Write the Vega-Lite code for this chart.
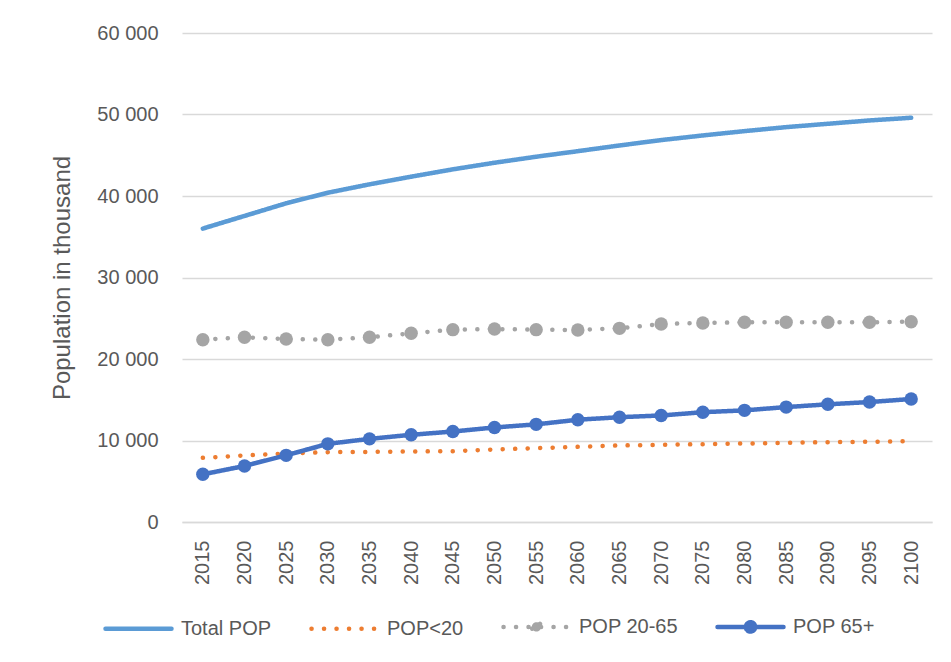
{
  "$schema": "https://vega.github.io/schema/vega-lite/v6.json",
  "autosize": {"type": "none"},
  "width": 750,
  "height": 489,
  "padding": {"left": 182, "top": 33, "right": 19, "bottom": 140},
  "background": "white",
  "config": {
    "view": {"stroke": null},
    "font": "Liberation Sans",
    "axis": {"labelFont": "Liberation Sans", "titleFont": "Liberation Sans", "labelColor": "#595959", "titleColor": "#595959", "titleFontWeight": "normal"},
    "legend": {"labelFont": "Liberation Sans", "labelColor": "#595959"}
  },
  "data": {
    "values": [
      {"year": "2015", "series": "Total POP", "value": 36000},
      {"year": "2020", "series": "Total POP", "value": 37550},
      {"year": "2025", "series": "Total POP", "value": 39100},
      {"year": "2030", "series": "Total POP", "value": 40400},
      {"year": "2035", "series": "Total POP", "value": 41430},
      {"year": "2040", "series": "Total POP", "value": 42370},
      {"year": "2045", "series": "Total POP", "value": 43270},
      {"year": "2050", "series": "Total POP", "value": 44080},
      {"year": "2055", "series": "Total POP", "value": 44820},
      {"year": "2060", "series": "Total POP", "value": 45500},
      {"year": "2065", "series": "Total POP", "value": 46200},
      {"year": "2070", "series": "Total POP", "value": 46860},
      {"year": "2075", "series": "Total POP", "value": 47430},
      {"year": "2080", "series": "Total POP", "value": 47960},
      {"year": "2085", "series": "Total POP", "value": 48450},
      {"year": "2090", "series": "Total POP", "value": 48860},
      {"year": "2095", "series": "Total POP", "value": 49270},
      {"year": "2100", "series": "Total POP", "value": 49600},
      {"year": "2015", "series": "POP<20", "value": 7870},
      {"year": "2020", "series": "POP<20", "value": 8160},
      {"year": "2025", "series": "POP<20", "value": 8400},
      {"year": "2030", "series": "POP<20", "value": 8570},
      {"year": "2035", "series": "POP<20", "value": 8600},
      {"year": "2040", "series": "POP<20", "value": 8650},
      {"year": "2045", "series": "POP<20", "value": 8690},
      {"year": "2050", "series": "POP<20", "value": 8900},
      {"year": "2055", "series": "POP<20", "value": 9060},
      {"year": "2060", "series": "POP<20", "value": 9220},
      {"year": "2065", "series": "POP<20", "value": 9390},
      {"year": "2070", "series": "POP<20", "value": 9470},
      {"year": "2075", "series": "POP<20", "value": 9550},
      {"year": "2080", "series": "POP<20", "value": 9630},
      {"year": "2085", "series": "POP<20", "value": 9710},
      {"year": "2090", "series": "POP<20", "value": 9800},
      {"year": "2095", "series": "POP<20", "value": 9840},
      {"year": "2100", "series": "POP<20", "value": 9920},
      {"year": "2015", "series": "POP 20-65", "value": 22370},
      {"year": "2020", "series": "POP 20-65", "value": 22660},
      {"year": "2025", "series": "POP 20-65", "value": 22450},
      {"year": "2030", "series": "POP 20-65", "value": 22370},
      {"year": "2035", "series": "POP 20-65", "value": 22660},
      {"year": "2040", "series": "POP 20-65", "value": 23150},
      {"year": "2045", "series": "POP 20-65", "value": 23600},
      {"year": "2050", "series": "POP 20-65", "value": 23680},
      {"year": "2055", "series": "POP 20-65", "value": 23600},
      {"year": "2060", "series": "POP 20-65", "value": 23560},
      {"year": "2065", "series": "POP 20-65", "value": 23760},
      {"year": "2070", "series": "POP 20-65", "value": 24300},
      {"year": "2075", "series": "POP 20-65", "value": 24420},
      {"year": "2080", "series": "POP 20-65", "value": 24500},
      {"year": "2085", "series": "POP 20-65", "value": 24500},
      {"year": "2090", "series": "POP 20-65", "value": 24500},
      {"year": "2095", "series": "POP 20-65", "value": 24500},
      {"year": "2100", "series": "POP 20-65", "value": 24580},
      {"year": "2015", "series": "POP 65+", "value": 5850},
      {"year": "2020", "series": "POP 65+", "value": 6870},
      {"year": "2025", "series": "POP 65+", "value": 8180},
      {"year": "2030", "series": "POP 65+", "value": 9590},
      {"year": "2035", "series": "POP 65+", "value": 10200},
      {"year": "2040", "series": "POP 65+", "value": 10700},
      {"year": "2045", "series": "POP 65+", "value": 11100},
      {"year": "2050", "series": "POP 65+", "value": 11600},
      {"year": "2055", "series": "POP 65+", "value": 11980},
      {"year": "2060", "series": "POP 65+", "value": 12550},
      {"year": "2065", "series": "POP 65+", "value": 12860},
      {"year": "2070", "series": "POP 65+", "value": 13070},
      {"year": "2075", "series": "POP 65+", "value": 13470},
      {"year": "2080", "series": "POP 65+", "value": 13700},
      {"year": "2085", "series": "POP 65+", "value": 14100},
      {"year": "2090", "series": "POP 65+", "value": 14440},
      {"year": "2095", "series": "POP 65+", "value": 14720},
      {"year": "2100", "series": "POP 65+", "value": 15090}
    ]
  },
  "encoding": {
    "x": {
      "field": "year", "type": "ordinal",
      "scale": {"type": "point", "padding": 0.5},
      "axis": {"title": null, "labelAngle": -90, "labelAlign": "right", "labelBaseline": "middle", "labelFontSize": 20, "labelPadding": 18, "ticks": false, "grid": false, "domainColor": "#D9D9D9", "domainWidth": 1.5}
    },
    "y": {
      "field": "value", "type": "quantitative",
      "scale": {"domain": [0, 60000], "nice": false},
      "axis": {"title": "Population in thousand", "titleFontSize": 24, "titlePadding": 22, "values": [0, 10000, 20000, 30000, 40000, 50000, 60000], "labelExpr": "replace(format(datum.value, ','), ',', ' ')", "labelFontSize": 20, "labelPadding": 24, "ticks": false, "domain": false, "gridColor": "#D9D9D9", "gridWidth": 1.5}
    }
  },
  "layer": [
    {
      "mark": {"type": "line", "strokeWidth": 4.5, "strokeCap": "round", "strokeJoin": "round"},
      "encoding": {
        "color": {
          "field": "series", "type": "nominal",
          "scale": {"domain": ["Total POP", "POP<20", "POP 20-65", "POP 65+"], "range": ["#5B9BD5", "#ED7D31", "#A5A5A5", "#4472C4"]},
          "legend": {
            "title": null, "orient": "none", "direction": "horizontal", "columns": 4,
            "legendX": -79, "legendY": 558,
            "symbolType": "stroke", "symbolSize": 4356, "symbolStrokeWidth": 4.5,
            "labelFontSize": 20, "labelOffset": 7, "columnPadding": 30,
            "encode": {
              "symbols": {
                "update": {
                  "shape": {"signal": "datum.value === 'POP 20-65' || datum.value === 'POP 65+' ? 'M-1,0H1M0.14,0A0.14,0.14 0 1 1 -0.14,0A0.14,0.14 0 1 1 0.14,0Z' : 'stroke'"},
                  "fill": {"signal": "datum.value === 'POP 20-65' ? '#A5A5A5' : datum.value === 'POP 65+' ? '#4472C4' : 'transparent'"},
                  "strokeCap": {"value": "round"}
                }
              }
            }
          }
        },
        "strokeDash": {
          "field": "series", "type": "nominal",
          "scale": {"domain": ["Total POP", "POP<20", "POP 20-65", "POP 65+"], "range": [[1, 0], [0.1, 12.4], [0.1, 12.4], [1, 0]]},
          "legend": null
        }
      }
    },
    {
      "transform": [{"filter": {"field": "series", "oneOf": ["POP 20-65", "POP 65+"]}}],
      "mark": {"type": "point", "filled": true, "size": 180, "opacity": 1},
      "encoding": {
        "color": {"field": "series", "type": "nominal", "legend": null}
      }
    }
  ]
}
